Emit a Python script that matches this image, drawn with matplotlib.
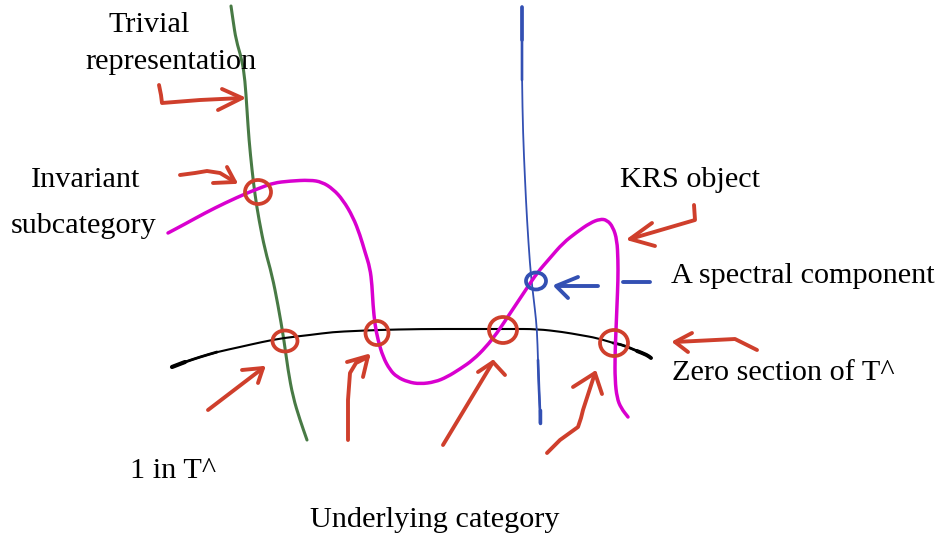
import matplotlib
matplotlib.use("Agg")
import matplotlib.pyplot as plt
from matplotlib.patches import Ellipse, PathPatch
from matplotlib.path import Path

# ---------------- data (pixel-space diagram coordinates) ----------------
green_curve = [(231, 6), (233, 20), (236, 40), (242, 60), (245, 80), (247, 110), (249, 140),
               (252, 170), (255, 195), (259, 220), (265, 250), (272, 275), (278, 305),
               (284, 340), (288, 370), (293, 397), (300, 420), (307, 440)]

magenta_curve = [(168, 233), (185, 224), (205, 213), (225, 203), (247, 193), (260, 188),
                 (273, 183), (290, 181), (310, 180), (322, 182), (333, 189), (343, 200),
                 (353, 217), (360, 235), (365, 252), (370, 268), (372, 285), (373, 305),
                 (375, 325), (378, 340), (383, 357), (390, 370), (397, 377), (408, 382),
                 (420, 384), (435, 382), (447, 377), (460, 369), (473, 360), (486, 347),
                 (497, 333), (507, 318), (517, 303), (527, 288), (537, 273), (550, 258),
                 (563, 243), (577, 232), (590, 223), (600, 219), (607, 220), (613, 227),
                 (617, 240), (618, 260), (618, 280), (617, 305), (616, 330), (615, 355),
                 (615, 380), (617, 398), (621, 408), (628, 417)]

black_curve = [(172, 367), (185, 362), (200, 357), (217, 352), (240, 347), (262, 342),
               (283, 338), (310, 335), (333, 332), (355, 331), (377, 330), (420, 329),
               (470, 329), (510, 329), (537, 329), (563, 332), (580, 335), (597, 338),
               (613, 343), (623, 345), (637, 351), (647, 355), (651, 358)]

blue_curve = [(522, 7), (522, 40), (522, 80), (523, 133), (525, 180), (527, 220),
              (530, 265), (532, 285), (535, 310), (537, 330), (538, 360), (539, 390),
              (540, 410), (540, 423)]

red_circle_x = [258, 285, 377, 503, 614]
red_circle_y = [192, 341, 333, 330, 343]
red_circle_w = [26, 25, 23, 28, 28]
red_circle_h = [24, 21, 24, 26, 26]

blue_circle = (536, 281)
blue_circle_size = (20, 17)

red_arrow_shafts = [
    [(159, 85), (161, 95), (162, 103), (200, 100), (242, 98)],
    [(180, 175), (195, 173), (207, 171), (220, 173), (235, 182)],
    [(208, 410), (263, 368)],
    [(348, 440), (348, 400), (350, 373), (356, 363), (368, 357)],
    [(443, 445), (493, 362)],
    [(547, 453), (560, 440), (578, 427), (581, 418), (583, 410), (595, 373)],
    [(757, 350), (735, 339), (675, 342)],
    [(694, 205), (695, 220), (630, 239)],
]
red_arrow_heads = [
    [(222, 89), (242, 98), (218, 110)],
    [(227, 167), (235, 182), (213, 183)],
    [(242, 370), (263, 368), (258, 383)],
    [(347, 362), (368, 356), (363, 377)],
    [(478, 372), (493, 362), (505, 375)],
    [(573, 387), (595, 373), (602, 394)],
    [(692, 333), (675, 342), (688, 352)],
    [(652, 223), (630, 239), (655, 246)],
]

blue_arrow_shaft = [(598, 286), (557, 286)]
blue_arrow_head = [(578, 277), (556, 286), (568, 298)]
blue_dash = [(623, 282), (650, 282)]

labels = ["Trivial", "representation", "Invariant", "subcategory", "KRS object",
          "A spectral component", "Zero section of T^", "1 in T^", "Underlying category"]
label_x = [149, 171, 86, 84, 690, 803, 783, 173, 435]
label_y = [32, 69, 187, 233, 187, 283, 380, 478, 527]

# ---------------- styles ----------------
GREEN = "#487a45"
MAGENTA = "#d900cf"
BLUE = "#3350b3"
RED = "#cf3f2c"

fig = plt.figure(figsize=(9.41, 5.37), dpi=100)
ax = fig.add_axes([0, 0, 1, 1])
ax.set_xlim(0, 941)
ax.set_ylim(537, 0)
ax.axis("off")


def draw(pts, color, lw):
    xs = [p[0] for p in pts]
    ys = [p[1] for p in pts]
    ax.plot(xs, ys, color=color, lw=lw, solid_capstyle="round", solid_joinstyle="round")


def draw_smooth(pts, color, lw):
    # quadratic Bezier through midpoints, using the points as control points
    verts = [pts[0]]
    codes = [Path.MOVETO]
    mid = lambda a, b: ((a[0] + b[0]) / 2, (a[1] + b[1]) / 2)
    if len(pts) > 2:
        verts.append(mid(pts[0], pts[1]))
        codes.append(Path.LINETO)
        for i in range(1, len(pts) - 1):
            verts += [pts[i], mid(pts[i], pts[i + 1])]
            codes += [Path.CURVE3, Path.CURVE3]
    verts.append(pts[-1])
    codes.append(Path.LINETO)
    patch = PathPatch(Path(verts, codes), fill=False, ec=color, lw=lw,
                      capstyle="round", joinstyle="round")
    ax.add_patch(patch)


draw_smooth(green_curve, GREEN, 2.2)

draw_smooth(black_curve, "black", 1.5)
draw_smooth(black_curve[:4], "black", 2.0)
draw_smooth(black_curve[:2], "black", 3.0)
draw_smooth(black_curve[-5:], "black", 2.0)
draw_smooth(black_curve[-3:], "black", 2.8)

draw_smooth(blue_curve, BLUE, 1.3)
draw_smooth(blue_curve[:3], BLUE, 1.9)
draw_smooth(blue_curve[:2], BLUE, 2.6)
draw_smooth(blue_curve[-4:], BLUE, 1.9)
draw_smooth(blue_curve[-2:], BLUE, 2.5)

draw_smooth(magenta_curve, MAGENTA, 2.5)

for cx, cy, w, h in zip(red_circle_x, red_circle_y, red_circle_w, red_circle_h):
    ax.add_patch(Ellipse((cx, cy), w, h, fill=False, ec=RED, lw=2.7))

ax.add_patch(Ellipse(blue_circle, blue_circle_size[0], blue_circle_size[1],
                     fill=False, ec=BLUE, lw=2.7))

for shaft, head in zip(red_arrow_shafts, red_arrow_heads):
    draw(shaft, RED, 2.8)
    draw(head, RED, 2.8)

draw(blue_arrow_shaft, BLUE, 2.8)
draw(blue_arrow_head, BLUE, 2.8)
draw(blue_dash, BLUE, 2.8)

for t, x, y in zip(labels, label_x, label_y):
    ax.text(x, y, t, ha="center", va="baseline", fontsize=21.8,
            family="Liberation Serif", color="black")

fig.savefig("out.png", dpi=100)
